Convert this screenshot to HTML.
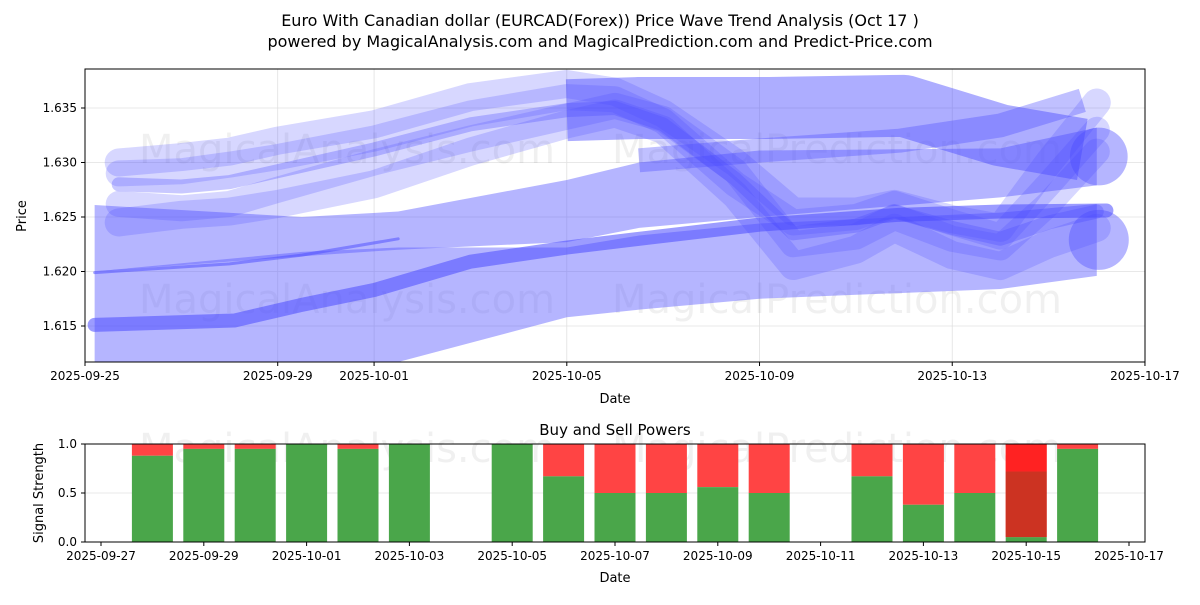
<!DOCTYPE html>
<html><head><meta charset="utf-8"><style>
body{margin:0;background:#fff;font-family:"Liberation Sans","DejaVu Sans",sans-serif;}
svg text{font-family:"DejaVu Sans","Liberation Sans",sans-serif;}
</style></head><body>
<svg id="s" width="1200" height="600" viewBox="0 0 1200 600" xmlns="http://www.w3.org/2000/svg">
<rect width="1200" height="600" fill="#fff"/>
<text x="600" y="26" text-anchor="middle" font-size="16" fill="#000">Euro With Canadian dollar (EURCAD(Forex)) Price Wave Trend Analysis (Oct 17 )</text>
<text x="600" y="47" text-anchor="middle" font-size="16" fill="#000">powered by MagicalAnalysis.com and MagicalPrediction.com and Predict-Price.com</text>
<g id="topPanel"></g>
<g id="botPanel"></g>
</svg>
<script>
// ---- top chart data (day offset from 2025-09-25, price) ----
const xTickLabels = ["2025-09-25","2025-09-29","2025-10-01","2025-10-05","2025-10-09","2025-10-13","2025-10-17"];
const xTickDays = [0,4,6,10,14,18,22];
const yTickValues = [1.615,1.620,1.625,1.630,1.635];
const bandDays = [0.2,4.5,6.5,10,11.5,14,19,21];
const bandLowUpper = [1.6200,1.6218,1.6222,1.6222,1.6233,1.6244,1.6254,1.6262];
const bandLowLower = [1.6100,1.6105,1.6117,1.6158,1.6165,1.6175,1.6184,1.6196];
const bandMidUpper = [1.6261,1.6250,1.6255,1.6284,1.6300,1.6311,1.6313,1.6332];
const bandMidLower = [1.6200,1.6214,1.6220,1.6227,1.6240,1.6250,1.6268,1.6279];
const lineADays = [0.2,3.1,4.46,6.0,8.0,10.0,11.7,14.0,16.9,19.0,21.2];
const lineA = [1.6151,1.6155,1.6169,1.6183,1.6209,1.6222,1.6231,1.6243,1.6252,1.6255,1.6256];
const lineBDays = [0.2,3,4.5,6.5];
const lineB = [1.6199,1.6207,1.6215,1.6230];
const lineCDays = [11.5,14,16.9,19,20.7];
const lineC = [1.6302,1.6311,1.6320,1.6334,1.6357];
const plateauDays = [10,11.5,14.2,17,19,20.7];
const plateauVals = [1.6348,1.6350,1.6350,1.6352,1.6325,1.6312];
const waveDays = [0.7,2,3,4,6,8,10,11,12,13.5,14.7,16,16.8,18,19,20,21];
const wave1 = [1.6280,1.6278,1.6282,1.6292,1.6312,1.6335,1.6348,1.6350,1.6335,1.6285,1.6235,1.6242,1.6255,1.6240,1.6230,1.6245,1.6255];
const wave2 = [1.6245,1.6252,1.6255,1.6262,1.6280,1.6310,1.6335,1.6345,1.6330,1.6270,1.6205,1.6220,1.6240,1.6215,1.6205,1.6225,1.6240];
const wave3 = [1.6300,1.6305,1.6310,1.6320,1.6335,1.6360,1.6372,1.6365,1.6345,1.6300,1.6255,1.6255,1.6262,1.6248,1.6240,1.6300,1.6355];
const wave4 = [1.6262,1.6258,1.6262,1.6275,1.6300,1.6322,1.6342,1.6352,1.6340,1.6292,1.6225,1.6232,1.6250,1.6230,1.6222,1.6262,1.6310];
const wave5 = [1.6290,1.6292,1.6298,1.6305,1.6322,1.6345,1.6360,1.6358,1.6338,1.6280,1.6245,1.6250,1.6262,1.6245,1.6232,1.6280,1.6330];
// ---- bottom chart data (day offset from 2025-09-27) ----
const barDays = [1,2,3,4,5,6,8,9,10,11,12,13,15,16,17,18,19];
const buyVals = [0.88,0.95,0.95,1.0,0.95,1.0,1.0,0.67,0.50,0.50,0.56,0.50,0.67,0.38,0.50,0.05,0.95];
const bTickLabels = ["2025-09-27","2025-09-29","2025-10-01","2025-10-03","2025-10-05","2025-10-07","2025-10-09","2025-10-11","2025-10-13","2025-10-15","2025-10-17"];
const bTickDays = [0,2,4,6,8,10,12,14,16,18,20];

const NS="http://www.w3.org/2000/svg";
function mk(p,tag,attrs){const e=document.createElementNS(NS,tag);for(const k in attrs)e.setAttribute(k,attrs[k]);p.appendChild(e);return e;}
const L=85,R=1145,T=69,B=362;
const X=d=>85+d*48.18;
const Y=v=>108+(1.635-v)*10900;
const topG=document.getElementById('topPanel');
xTickDays.forEach((d,i)=>{
 const g=mk(topG,'line',{x1:X(d),x2:X(d),y1:T,y2:B,stroke:'#e0e0e0','stroke-width':0.8});
 
 
 const t=mk(topG,'line',{x1:X(d),x2:X(d),y1:B,y2:B+4,stroke:'#000'});
 
 
 const tx=mk(topG,'text',{x:X(d),y:B+18,'text-anchor':'middle','font-size':12});
 tx.textContent=xTickLabels[i];
 
 
});
yTickValues.forEach(v=>{
 const g=mk(topG,'line',{x1:L,x2:R,y1:Y(v),y2:Y(v),stroke:'#e0e0e0','stroke-width':0.8});
 
 
 const t=mk(topG,'line',{x1:L-4,x2:L,y1:Y(v),y2:Y(v),stroke:'#000'});
 
 
 const tx=mk(topG,'text',{x:L-8,y:Y(v)+4,'text-anchor':'end','font-size':12});
 tx.textContent=v.toFixed(3);
 
 
});
const wm1=mk(topG,'text',{x:347,y:163,'text-anchor':'middle','font-size':40,fill:'#000','fill-opacity':0.06});
wm1.textContent='MagicalAnalysis.com';


const wm2=mk(topG,'text',{x:837,y:163,'text-anchor':'middle','font-size':40,fill:'#000','fill-opacity':0.06});
wm2.textContent='MagicalPrediction.com';


const wm3=mk(topG,'text',{x:347,y:313,'text-anchor':'middle','font-size':40,fill:'#000','fill-opacity':0.06});
wm3.textContent='MagicalAnalysis.com';


const wm4=mk(topG,'text',{x:837,y:313,'text-anchor':'middle','font-size':40,fill:'#000','fill-opacity':0.06});
wm4.textContent='MagicalPrediction.com';


const clip=mk(topG,'clipPath',{id:'pc'});mk(clip,'rect',{x:L,y:T,width:R-L,height:B-T});
const plot=mk(topG,'g',{'clip-path':'url(#pc)'});
function band(days,up,lo,name,op){
 let d='M'+days.map((x,i)=>X(x)+','+Y(up[i])).join('L');
 d+='L'+days.map((x,i)=>[X(x),Y(lo[i])]).reverse().map(p=>p.join(',')).join('L')+'Z';
 const p=mk(plot,'path',{d:d,fill:'#5a5aff','fill-opacity':op});
 
 
 const n=days.length-1;const cy=(Y(up[n])+Y(lo[n]))/2,r=(Y(lo[n])-Y(up[n]))/2;
 const c=mk(plot,'circle',{cx:X(days[n])+2,cy:cy,r:Math.min(r,30),fill:'#5a5aff','fill-opacity':op});
 
 
}
function line(days,vals,w,op,name,cap){
 const p=mk(plot,'polyline',{points:days.map((x,i)=>X(x)+','+Y(vals[i])).join(' '),fill:'none',stroke:'#4a4aff','stroke-opacity':op,'stroke-width':w,'stroke-linejoin':'round','stroke-linecap':cap||'round'});
 
 
}
band(bandDays,bandLowUpper,bandLowLower,'wave-band-low',0.45);
band(bandDays,bandMidUpper,bandMidLower,'wave-band-mid',0.45);
line(plateauDays,plateauVals,62,0.45,'wave-plateau','butt');
line(lineADays,lineA,14,0.55,'wave-line-a');
line(lineBDays,lineB,3,0.5,'wave-line-b');
line(lineCDays,lineC,24,0.35,'wave-line-c','butt');
[wave1,wave2,wave3,wave4,wave5].forEach((w,i)=>line(waveDays,w,[14,28,28,26,26][i],[0.3,0.22,0.22,0.22,0.22][i],'wave-bundle-'+(i+1)));
mk(topG,'rect',{x:L,y:T,width:R-L,height:B-T,fill:'none',stroke:'#000','stroke-width':1});
const xl=mk(topG,'text',{x:615,y:403,'text-anchor':'middle','font-size':13});xl.textContent='Date';


const yl=mk(topG,'text',{x:26,y:216,'text-anchor':'middle','font-size':13,transform:'rotate(-90 26 216)'});yl.textContent='Price';



// ---- bottom ----
const botG=document.getElementById('botPanel');
const bL=85,bR=1145,bT=444,bB=542;
const BX=d=>101+d*51.4;
const BY=v=>bB-v*(bB-bT);
const bt=mk(botG,'text',{x:615,y:435,'text-anchor':'middle','font-size':15});bt.textContent='Buy and Sell Powers';


[0,0.5,1].forEach(v=>{
 const g=mk(botG,'line',{x1:bL,x2:bR,y1:BY(v),y2:BY(v),stroke:'#e0e0e0','stroke-width':0.8});
 
 
 const tx=mk(botG,'text',{x:bL-8,y:BY(v)+4,'text-anchor':'end','font-size':12});tx.textContent=v.toFixed(1);
 
 
 const t=mk(botG,'line',{x1:bL-4,x2:bL,y1:BY(v),y2:BY(v),stroke:'#000'});
 
 
});
const wm5=mk(botG,'text',{x:347,y:462,'text-anchor':'middle','font-size':40,fill:'#000','fill-opacity':0.06});wm5.textContent='MagicalAnalysis.com';


const wm6=mk(botG,'text',{x:837,y:462,'text-anchor':'middle','font-size':40,fill:'#000','fill-opacity':0.06});wm6.textContent='MagicalPrediction.com';


barDays.forEach((d,i)=>{
 const x=BX(d)-20.5,b=buyVals[i];
 const s=mk(botG,'rect',{x:x,y:bT,width:41,height:BY(b)-bT,fill:'#ff4444'});
 
 
 const g=mk(botG,'rect',{x:x,y:BY(b),width:41,height:bB-BY(b),fill:'#4aa64a'});
 
 
});
const ov=mk(botG,'rect',{x:BX(18)-20.5,y:BY(0.72),width:41,height:BY(0.05)-BY(0.72),fill:'#cc3322'});


const ov2=mk(botG,'rect',{x:BX(18)-20.5,y:bT,width:41,height:BY(0.72)-bT,fill:'#ff2222'});


bTickDays.forEach((d,i)=>{
 const t=mk(botG,'line',{x1:BX(d),x2:BX(d),y1:bB,y2:bB+4,stroke:'#000'});
 
 
 const tx=mk(botG,'text',{x:BX(d),y:bB+18,'text-anchor':'middle','font-size':12});tx.textContent=bTickLabels[i];
 
 
});
mk(botG,'rect',{x:bL,y:bT,width:bR-bL,height:bB-bT,fill:'none',stroke:'#000','stroke-width':1});
const bx=mk(botG,'text',{x:615,y:582,'text-anchor':'middle','font-size':13});bx.textContent='Date';


const by=mk(botG,'text',{x:43,y:493,'text-anchor':'middle','font-size':13,transform:'rotate(-90 43 493)'});by.textContent='Signal Strength';


</script>
</body></html>
